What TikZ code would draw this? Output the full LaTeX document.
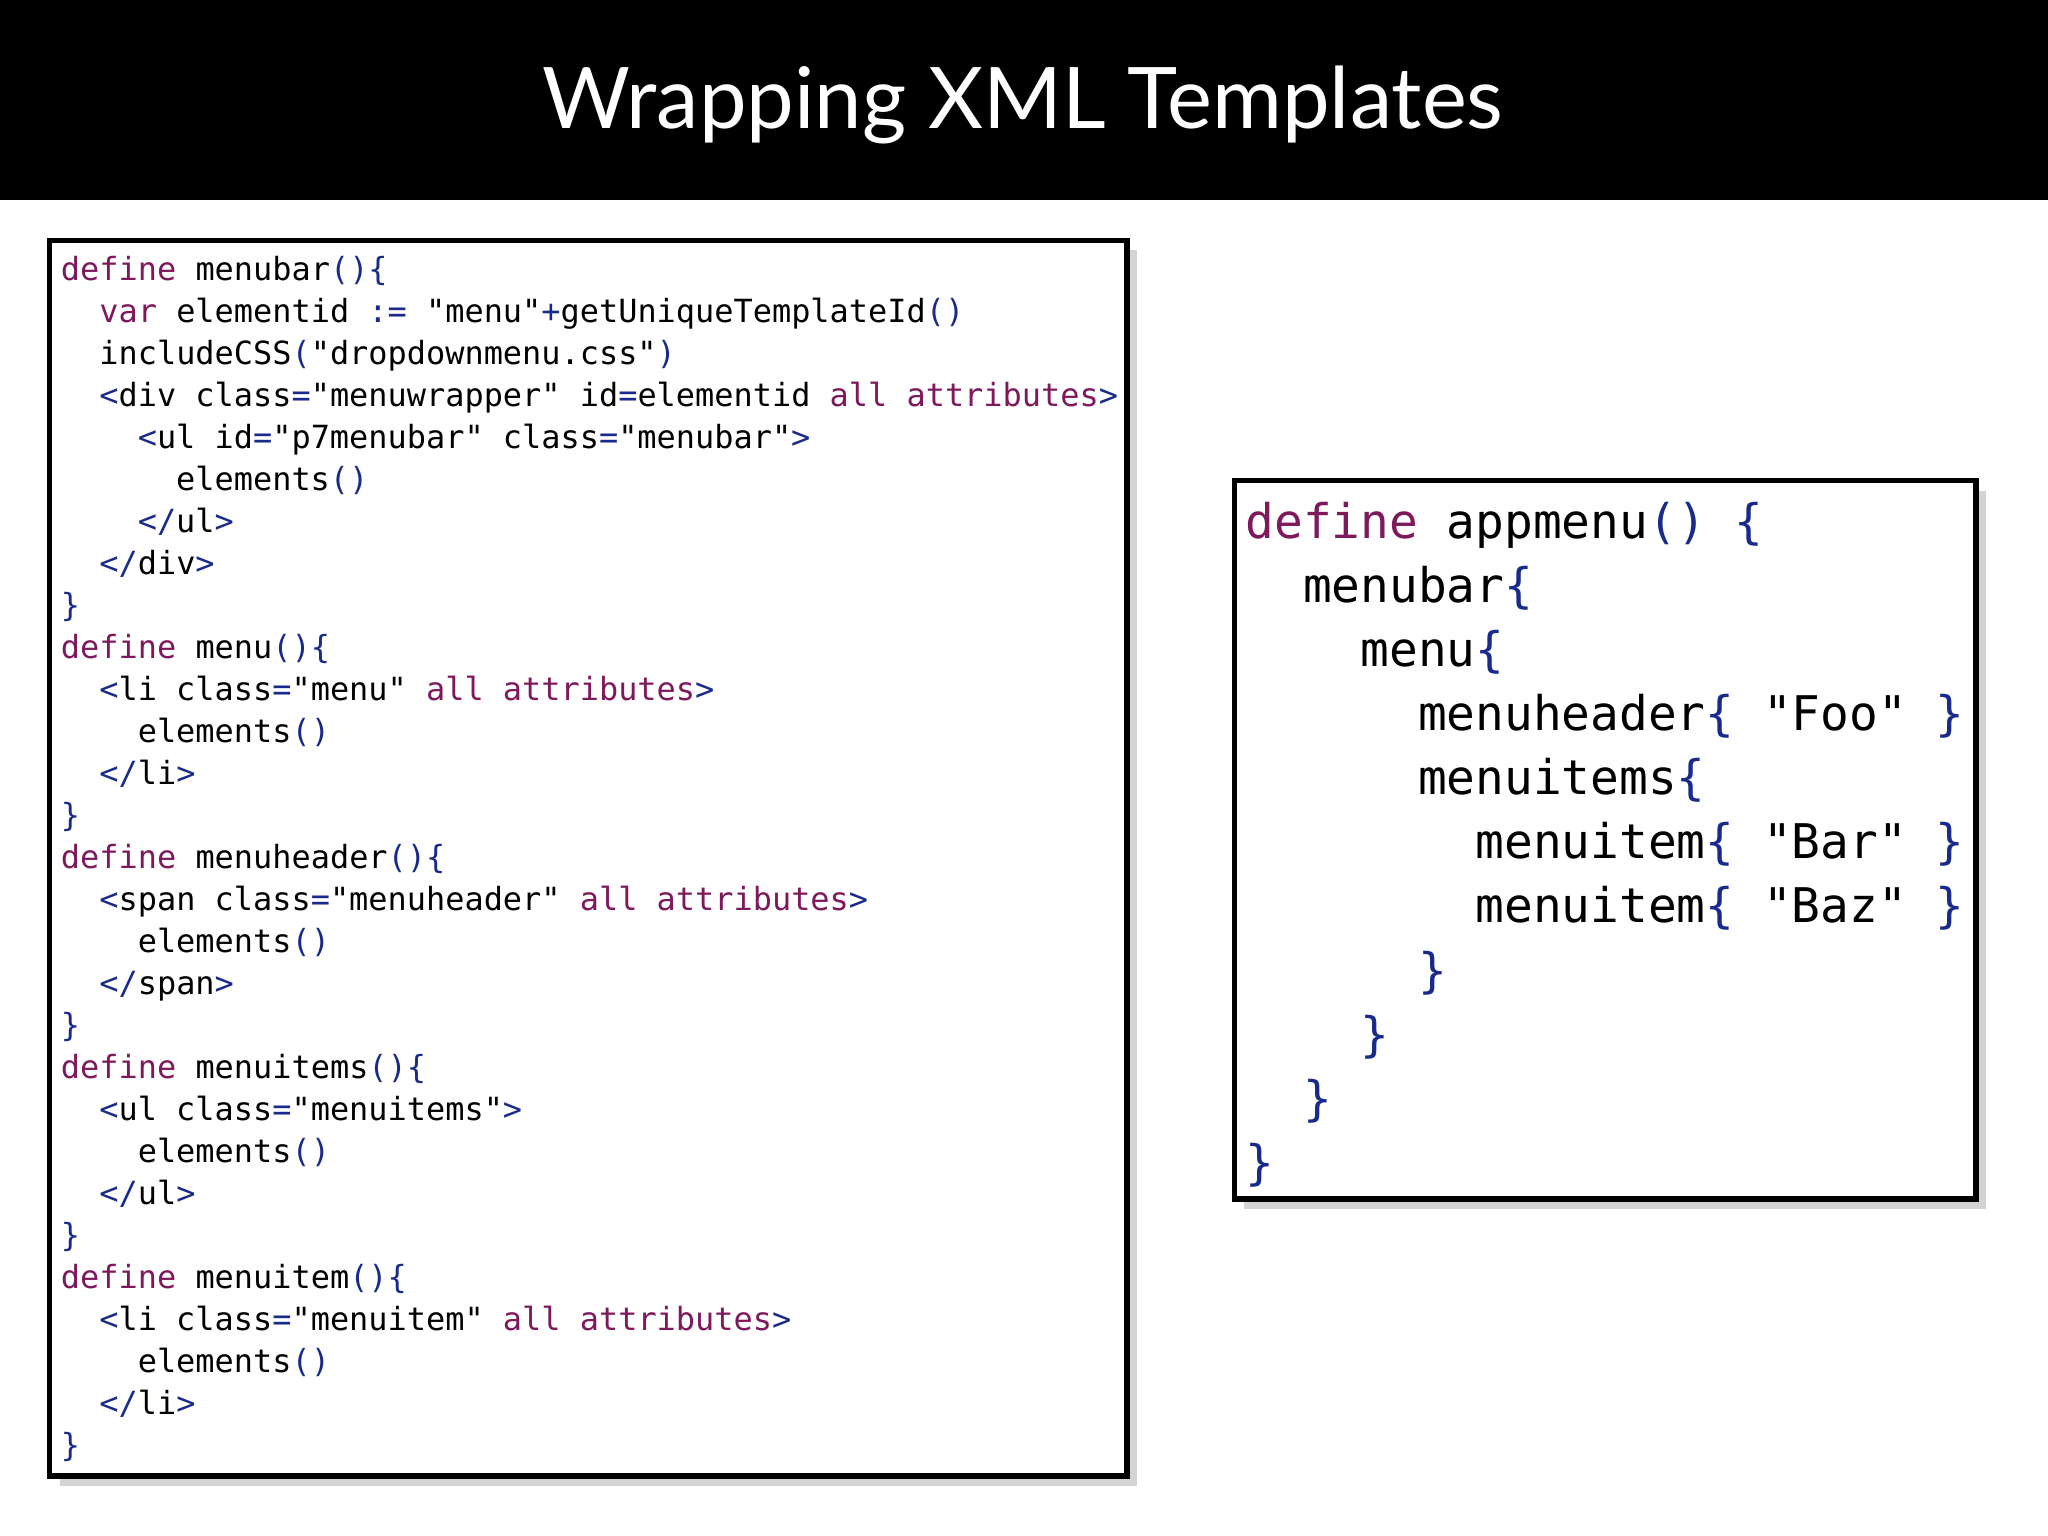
\documentclass[tikz,border=0pt]{standalone}
\usepackage{fontspec}
\setmainfont{Lato}
\setmonofont{DejaVu Sans Mono}
\usetikzlibrary{shadows}
\definecolor{kw}{HTML}{7E1A5C}
\definecolor{pb}{HTML}{1A2A8A}
\newcommand{\K}[1]{\textcolor{kw}{#1}}
\newcommand{\B}[1]{\textcolor{pb}{#1}}
\newcommand{\LB}{\B{\{}}
\newcommand{\RB}{\B{\}}}
\newcommand{\PP}{\B{()}}
\tikzset{
  codebox/.style={draw=black, line width=1.2pt, fill=white, drop shadow={shadow xshift=2.2pt, shadow yshift=-2.2pt, opacity=0.35}},
  lc/.style={anchor=base west, inner sep=0pt, font=\ttfamily\fontsize{6.95pt}{8pt}\selectfont},
  rc/.style={anchor=base west, inner sep=0pt, font=\ttfamily\fontsize{10.4pt}{12pt}\selectfont}
}
\begin{document}
\begin{tikzpicture}[x=0.01cm,y=-0.01cm]
\useasboundingbox (0,0) rectangle (1568,1176);
\fill[black] (0,0) rectangle (1568,153);
\node[text=white, font=\fontsize{18.5pt}{22pt}\selectfont] (title) at (783,80) {Wrapping XML Templates};
\draw[codebox] (38,184) rectangle (863,1130);
\draw[codebox] (945,368) rectangle (1513,918);
\def\lx{46}
\def\ly{215}
\def\ls{32.14}
\def\ind{29.4}
\newcommand{\LL}[3]{\node[lc] (l#1) at ({\lx+#2*\ind},{\ly+(#1-1)*\ls}) {#3};}
\LL{1}{0}{\K{define} menubar\PP\LB}
\LL{2}{1}{\K{var} elementid \B{:=} "menu"\B{+}getUniqueTemplateId\PP}
\LL{3}{1}{includeCSS\B{(}"dropdownmenu.css"\B{)}}
\LL{4}{1}{\B{<}div class\B{=}"menuwrapper" id\B{=}elementid \K{all attributes}\B{>}}
\LL{5}{2}{\B{<}ul id\B{=}"p7menubar" class\B{=}"menubar"\B{>}}
\LL{6}{3}{elements\PP}
\LL{7}{2}{\B{</}ul\B{>}}
\LL{8}{1}{\B{</}div\B{>}}
\LL{9}{0}{\RB}
\LL{10}{0}{\K{define} menu\PP\LB}
\LL{11}{1}{\B{<}li class\B{=}"menu" \K{all attributes}\B{>}}
\LL{12}{2}{elements\PP}
\LL{13}{1}{\B{</}li\B{>}}
\LL{14}{0}{\RB}
\LL{15}{0}{\K{define} menuheader\PP\LB}
\LL{16}{1}{\B{<}span class\B{=}"menuheader" \K{all attributes}\B{>}}
\LL{17}{2}{elements\PP}
\LL{18}{1}{\B{</}span\B{>}}
\LL{19}{0}{\RB}
\LL{20}{0}{\K{define} menuitems\PP\LB}
\LL{21}{1}{\B{<}ul class\B{=}"menuitems"\B{>}}
\LL{22}{2}{elements\PP}
\LL{23}{1}{\B{</}ul\B{>}}
\LL{24}{0}{\RB}
\LL{25}{0}{\K{define} menuitem\PP\LB}
\LL{26}{1}{\B{<}li class\B{=}"menuitem" \K{all attributes}\B{>}}
\LL{27}{2}{elements\PP}
\LL{28}{1}{\B{</}li\B{>}}
\LL{29}{0}{\RB}
\def\rx{953}
\def\ry{412}
\def\rs{49.1}
\def\rind{44}
\newcommand{\RL}[3]{\node[rc] (r#1) at ({\rx+#2*\rind},{\ry+(#1-1)*\rs}) {#3};}
\RL{1}{0}{\K{define} appmenu\PP{} \LB}
\RL{2}{1}{menubar\LB}
\RL{3}{2}{menu\LB}
\RL{4}{3}{menuheader\LB{} "Foo" \RB}
\RL{5}{3}{menuitems\LB}
\RL{6}{4}{menuitem\LB{} "Bar" \RB}
\RL{7}{4}{menuitem\LB{} "Baz" \RB}
\RL{8}{3}{\RB}
\RL{9}{2}{\RB}
\RL{10}{1}{\RB}
\RL{11}{0}{\RB}
\end{tikzpicture}
\end{document}
